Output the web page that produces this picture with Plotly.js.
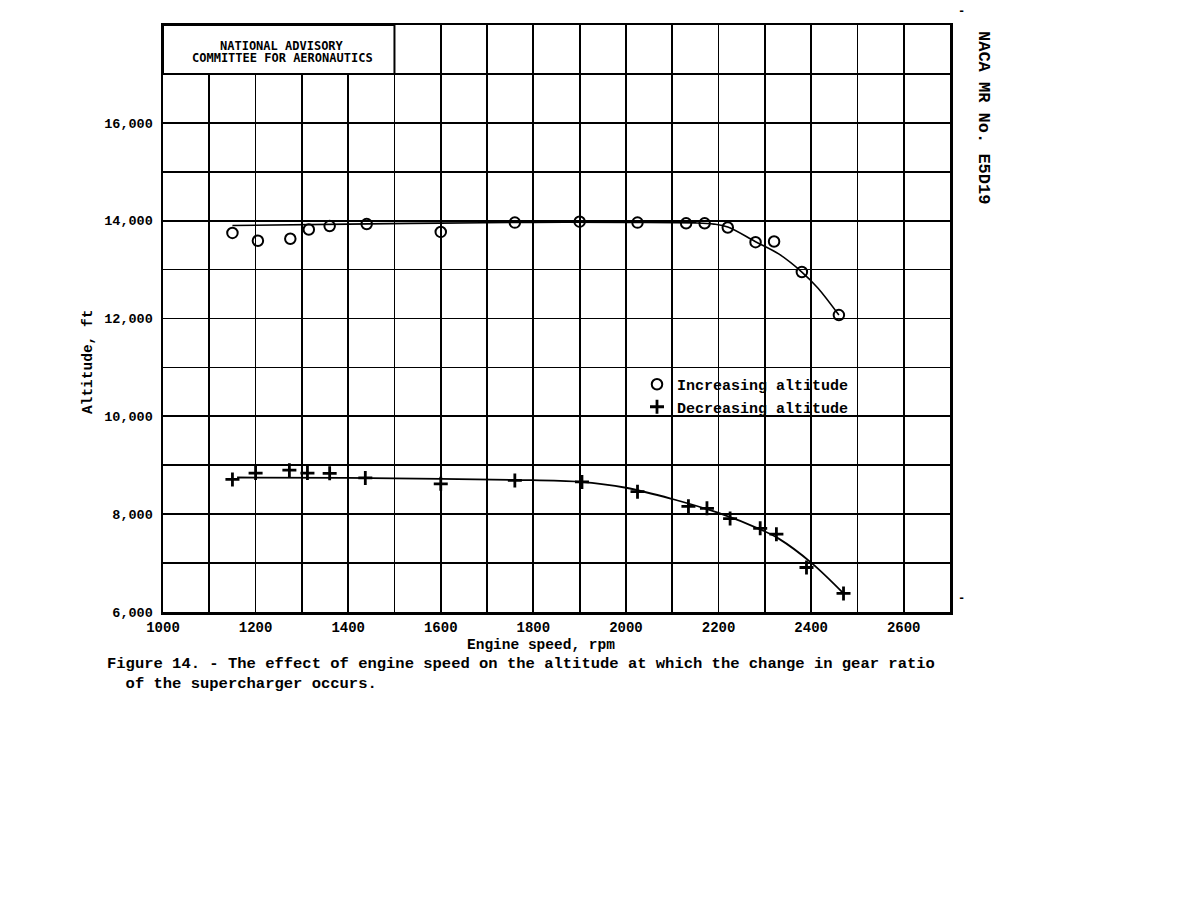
<!DOCTYPE html>
<html>
<head>
<meta charset="utf-8">
<script src="https://cdn.plot.ly/plotly-3.0.1.min.js"></script>
<style>html,body{margin:0;padding:0;background:#fff;}#chart{width:1200px;height:900px;}</style>
</head>
<body>
<div id="chart"></div>
<script>
// ---- data ----
const rpmIncreasing = [1150,1205,1275,1315,1360,1440,1600,1760,1900,2025,2130,2170,2220,2280,2320,2380,2460];
const altIncreasing = [13750,13590,13630,13820,13890,13930,13770,13960,13980,13960,13945,13945,13860,13560,13575,12950,12070];

const rpmDecreasing = [1150,1200,1273,1312,1360,1437,1600,1760,1905,2025,2135,2175,2225,2290,2325,2390,2470];
const altDecreasing = [8710,8840,8900,8840,8835,8740,8620,8690,8660,8460,8160,8120,7910,7710,7590,6910,6380];

// faired curves drawn through the points
const fitIncRpm = [1150,1400,1600,1800,2000,2150,2190,2220,2280,2330,2380,2415,2460];
const fitIncAlt = [13900,13930,13950,13965,13965,13955,13930,13870,13570,13320,12950,12620,12070];
const fitDecRpm = [1160,1400,1600,1760,1900,2000,2100,2200,2290,2330,2400,2470];
const fitDecAlt = [8750,8740,8720,8700,8660,8540,8310,8025,7690,7500,7010,6380];

const xTickVals = [1000,1200,1400,1600,1800,2000,2200,2400,2600];
const xTickText = ['1000','1200','1400','1600','1800','2000','2200','2400','2600'];
const yTickVals = [6000,8000,10000,12000,14000,16000];
const yTickText = ['6,000','8,000','10,000','12,000','14,000','16,000'];

const seriesNames = ['Increasing altitude','Decreasing altitude'];
const boxLines = ['NATIONAL ADVISORY','COMMITTEE FOR AERONAUTICS'];
const xTitle = 'Engine speed, rpm';
const yTitle = 'Altitude, ft';
const captionLines = ['Figure 14. - The effect of engine speed on the altitude at which the change in gear ratio',
                      '\u00a0\u00a0of the supercharger occurs.'];
const sideLabel = 'NACA MR No. E5D19';

// ---- layout helpers (pixel placement) ----
const W = 1200, H = 900;
const M = {l:163, r:250, t:25, b:288};
const pw = W - M.l - M.r, ph = H - M.t - M.b;
const pxX = px => (px - M.l) / pw;
const pxY = py => 1 - (py - M.t) / ph;

const MONO = '"Liberation Mono", "DejaVu Sans Mono", monospace';
const SANS = '"DejaVu Sans Mono", "DejaVu Sans", sans-serif';
const bold = (size, fam) => ({family: fam || MONO, size: size, color: '#000', weight: 700});

const traces = [
  {x: fitIncRpm, y: fitIncAlt, mode: 'lines', line: {color:'#000', width:1.6, shape:'spline', smoothing:1}, showlegend:false, hoverinfo:'skip'},
  {x: fitDecRpm, y: fitDecAlt, mode: 'lines', line: {color:'#000', width:1.8, shape:'spline', smoothing:1}, showlegend:false, hoverinfo:'skip'},
  {x: rpmIncreasing, y: altIncreasing, name: seriesNames[0], mode: 'markers',
   marker: {symbol:'circle-open', size:10.5, color:'#000', line:{color:'#000', width:2}}},
  {x: rpmDecreasing, y: altDecreasing, name: seriesNames[1], mode: 'markers',
   marker: {symbol:'cross-thin', size:10, color:'#000', line:{color:'#000', width:2.8}}}
];

const gridStyle = {showgrid:true, gridcolor:'#000', gridwidth:1.8};

const ann = (x, y, text, font, extra) => Object.assign({xref:'paper', yref:'paper', x:x, y:y, text:text,
  showarrow:false, xanchor:'center', yanchor:'middle', font:font}, extra || {});

const layout = {
  width: W, height: H,
  margin: M,
  paper_bgcolor: '#fff', plot_bgcolor: '#fff',
  showlegend: true,
  legend: {x: pxX(637), y: pxY(368), xanchor:'left', yanchor:'top', bgcolor:'rgba(0,0,0,0)',
           font: bold(15), tracegroupgap: 0, itemwidth: 30},
  xaxis: Object.assign({
    range: [1000, 2700], tickmode:'array', tickvals: xTickVals, ticktext: xTickText,
    tickfont: bold(14), ticks:'', ticklabelstandoff: 1,
    showline: true, linecolor:'#000', linewidth: 2.5, mirror: true, zeroline:false,
    minor: {tickmode:'linear', tick0:1000, dtick:100, showgrid:true, gridcolor:'#000', gridwidth:1.8, ticks:''}
  }, gridStyle),
  yaxis: Object.assign({
    range: [6000, 18000], tickmode:'array', tickvals: yTickVals, ticktext: yTickText,
    tickfont: bold(13.5), ticks:'', ticklabelstandoff: 5,
    showline: true, linecolor:'#000', linewidth: 2.5, mirror: true, zeroline:false,
    minor: {tickmode:'linear', tick0:6000, dtick:1000, showgrid:true, gridcolor:'#000', gridwidth:1.8, ticks:''}
  }, gridStyle),
  shapes: [
    {type:'rect', xref:'x', yref:'y', x0:1000, x1:1500, y0:17000, y1:18000,
     fillcolor:'#fff', line:{color:'#000', width:2}, layer:'above'}
  ],
  annotations: [
    {xref:'x', yref:'y', x:1258, y:17575, text: boxLines[0], showarrow:false, xanchor:'center', yanchor:'middle', font: bold(12, SANS)},
    {xref:'x', yref:'y', x:1258, y:17330, text: boxLines[1], showarrow:false, xanchor:'center', yanchor:'middle', font: bold(12, SANS)},
    ann(pxX(541), pxY(645), xTitle, bold(14.5)),
    ann(pxX(88), pxY(362), yTitle, bold(14.5), {textangle:-90}),
    ann(pxX(105), pxY(653), captionLines.join('<br>'), bold(15.5), {xanchor:'left', yanchor:'top', align:'left'}),
    ann(pxX(984), pxY(117), sideLabel, bold(17), {textangle:90}),
    ann(pxX(961), pxY(12), '-', bold(12)),
    ann(pxX(961), pxY(599), '-', bold(12))
  ]
};

Plotly.newPlot('chart', traces, layout, {staticPlot:true, displayModeBar:false});
</script>
</body>
</html>
